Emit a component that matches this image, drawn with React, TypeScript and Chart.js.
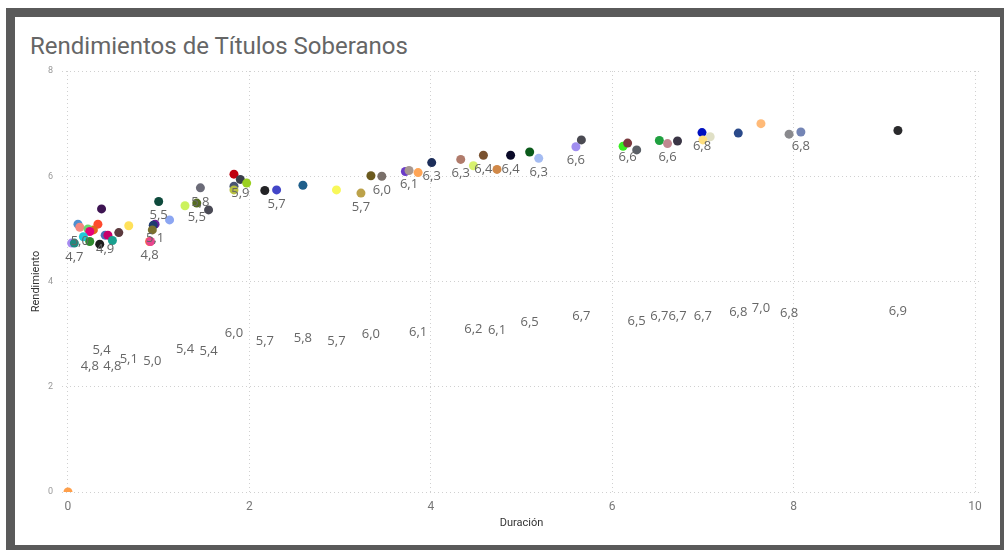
import React, { useEffect, useRef } from "react";
import { Chart, registerables } from "chart.js";

Chart.register(...registerables);

// Duración (x) of each bond
const durations = [
  0.0, 0.11, 0.13, 0.37, 0.33, 0.28, 0.22, 0.24, 0.17, 0.04,
  0.07, 0.24, 0.35, 0.41, 0.44, 0.49, 0.56, 0.67, 1.0, 1.29,
  1.12, 0.96, 0.94, 0.93, 0.9, 0.91, 1.46, 1.42, 1.55, 1.83,
  1.9, 1.83, 1.97, 1.83, 2.17, 2.3, 2.59, 2.96, 3.23, 3.34,
  3.46, 3.72, 3.76, 3.86, 4.01, 4.33, 4.47, 4.58, 4.73, 4.88,
  5.09, 5.19, 5.6, 5.66, 6.12, 6.17, 6.27, 6.52, 6.61, 6.72,
  6.99, 7.08, 7.0, 7.39, 7.64, 7.95, 8.08, 9.15,
];

// Rendimiento (y) of each bond
const yields = [
  0.0, 5.09, 5.03, 5.38, 5.09, 4.98, 5.0, 4.95, 4.85, 4.73,
  4.73, 4.76, 4.71, 4.88, 4.88, 4.78, 4.93, 5.06, 5.52, 5.44,
  5.17, 5.09, 5.07, 4.98, 4.76, 4.76, 5.78, 5.49, 5.36, 6.04,
  5.94, 5.81, 5.87, 5.74, 5.73, 5.74, 5.83, 5.74, 5.68, 6.01,
  6.0, 6.09, 6.11, 6.07, 6.26, 6.32, 6.2, 6.4, 6.13, 6.4,
  6.46, 6.34, 6.56, 6.69, 6.57, 6.63, 6.5, 6.68, 6.62, 6.67,
  6.83, 6.75, 6.69, 6.82, 7.0, 6.8, 6.84, 6.87,
];

const pointColors = [
  "#FF9F4A", "#4E8FD0", "#F4877F", "#3D1452", "#FF4A2E", "#E0661C", "#6CD86C", "#E5007A", "#1EC8D8", "#A88CF2",
  "#1F8A80", "#2E8B2E", "#1E1E1E", "#4A6FB5", "#C8006A", "#1AA08F", "#5C3A3E", "#FFE15A", "#0E4A3C", "#CCF25E",
  "#8CA6F2", "#6A1B9A", "#1F3A70", "#7A7030", "#F5693C", "#E8458E", "#6B6B78", "#556B22", "#4A4A55", "#C00010",
  "#3A3F4A", "#4B5673", "#9AD020", "#B8C040", "#232326", "#4346C8", "#1F5F8B", "#F8F85A", "#BCA24A", "#6B5A1E",
  "#7A706A", "#6A3AC8", "#A89890", "#FFA556", "#1C2E5A", "#B07B6B", "#D8F26E", "#7A5230", "#D08848", "#0A0A28",
  "#0A5A1A", "#A5BCF2", "#A08EF0", "#4A4A52", "#38EE22", "#7A3A3E", "#5A5F66", "#20A040", "#C08890", "#3A3545",
  "#0010C0", "#E0E0C6", "#FFE080", "#2A4A8A", "#FFBA78", "#8A8A8E", "#7485B5", "#2A2A2C",
];

// where each point's data label sits: "b" below point, "h" at half its value, "" none
const labelModes = [
  "", "", "b", "h", "", "", "", "", "", "",
  "b", "h", "", "b", "", "h", "", "h", "b", "h",
  "", "b", "", "h", "b", "", "b", "b", "h", "h",
  "b", "", "", "", "h", "b", "h", "h", "b", "h",
  "b", "", "b", "h", "b", "b", "h", "b", "h", "b",
  "h", "b", "b", "h", "", "b", "h", "h", "b", "h",
  "b", "", "h", "h", "h", "h", "b", "h",
];

const xTicks = [0, 2, 4, 6, 8, 10];
const yTicks = [0, 2, 4, 6, 8];

const titleText = "Rendimientos de Títulos Soberanos";
const xTitle = "Duración";
const yTitle = "Rendimiento";

const labelPlugin = {
  id: "pointLabels",
  afterDatasetsDraw(chart: any) {
    const { ctx, scales } = chart;
    const meta = chart.getDatasetMeta(0);
    ctx.save();
    ctx.font = '13px "Open Sans", sans-serif';
    ctx.fillStyle = "#666666";
    ctx.textAlign = "center";
    ctx.textBaseline = "middle";
    meta.data.forEach((el: any, i: number) => {
      const mode = labelModes[i];
      if (!mode) return;
      const text = yields[i].toFixed(1).replace(".", ",");
      const x = el.x;
      const y = mode === "b" ? el.y + 14 : scales.y.getPixelForValue(yields[i] / 2);
      ctx.fillText(text, x, y);
    });
    ctx.restore();
  },
};

export default function App() {
  const ref = useRef<HTMLCanvasElement | null>(null);

  useEffect(() => {
    if (!ref.current) return;
    const chart = new Chart(ref.current, {
      type: "scatter",
      data: {
        datasets: [
          {
            data: durations.map((d, i) => ({ x: d, y: yields[i] })),
            pointBackgroundColor: pointColors,
            pointBorderColor: pointColors,
            pointRadius: 4.5,
            pointBorderWidth: 0,
            clip: 0,
          } as any,
        ],
      },
      options: {
        responsive: false,
        animation: false,
        devicePixelRatio: 1,
        layout: { padding: { left: 30, top: 71, right: 23, bottom: 20 } },
        plugins: {
          legend: { display: false },
          tooltip: { enabled: false },
        },
        scales: {
          x: {
            type: "linear",
            min: -0.066,
            max: 10.066,
            afterBuildTicks: (axis: any) => {
              axis.ticks = xTicks.map((v) => ({ value: v }));
            },
            afterFit: (s: any) => {
              s.height = 38;
            },
            grid: { color: "#D0D0D0", drawTicks: false, lineWidth: 1 },
            border: { display: false, dash: [1, 3] },
            ticks: {
              padding: 8,
              color: "#777777",
              font: { family: "Roboto, sans-serif", size: 12 },
            },
            title: {
              display: true,
              text: xTitle,
              color: "#333333",
              padding: 0,
              font: { family: "Roboto, sans-serif", size: 11 },
            },
          },
          y: {
            type: "linear",
            min: 0,
            max: 8,
            afterBuildTicks: (axis: any) => {
              axis.ticks = yTicks.map((v) => ({ value: v }));
            },
            afterFit: (s: any) => {
              s.width = 32;
            },
            grid: { color: "#D0D0D0", drawTicks: false, lineWidth: 1 },
            border: { display: false, dash: [1, 3] },
            ticks: {
              padding: 9,
              color: "#999999",
              font: { family: "Roboto, sans-serif", size: 9 },
            },
            title: {
              display: true,
              text: yTitle,
              color: "#333333",
              padding: 0,
              font: { family: "Roboto, sans-serif", size: 11 },
            },
          },
        },
      },
      plugins: [labelPlugin],
    });
    return () => chart.destroy();
  }, []);

  return (
    <div
      style={{
        position: "fixed",
        left: 0,
        top: 0,
        width: 1004,
        height: 550,
        background: "#ffffff",
        overflow: "hidden",
      }}
    >
      <div
        style={{
          position: "absolute",
          left: 6,
          top: 8,
          width: 998,
          height: 542,
          boxSizing: "border-box",
          borderStyle: "solid",
          borderColor: "#5a5a5a",
          borderWidth: "9px 4px 5px 9px",
          background: "#ffffff",
        }}
      />
      <div
        style={{
          position: "absolute",
          left: 30,
          top: 31,
          fontFamily: "Roboto, sans-serif",
          fontSize: 24,
          color: "#666666",
          lineHeight: "30px",
          whiteSpace: "nowrap",
        }}
      >
        {titleText}
      </div>
      <canvas
        ref={ref}
        width={1004}
        height={550}
        style={{ position: "absolute", left: 0, top: 0, width: 1004, height: 550 }}
      />
    </div>
  );
}
